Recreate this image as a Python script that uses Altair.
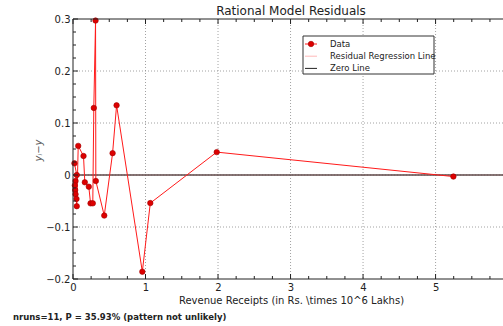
import altair as alt
import pandas as pd

# Residuals of the rational model against revenue receipts, in plotting order
receipts = [0.020, 0.052, 0.035, 0.025, 0.030, 0.035, 0.048, 0.052, 0.072,
            0.145, 0.163, 0.218, 0.242, 0.273, 0.287, 0.311, 0.315, 0.431,
            0.546, 0.601, 0.956, 1.066, 1.982, 5.246]
residuals = [0.0225, 0.000, -0.0115, -0.020, -0.029, -0.037, -0.046, -0.060, 0.056,
             0.0365, -0.014, -0.0225, -0.0545, -0.0545, 0.129, 0.297, -0.0115, -0.078,
             0.042, 0.134, -0.186, -0.054, 0.044, -0.003]

# Straight-line fit of the residuals (essentially flat along zero)
reg_x = [0.0, 6.0]
reg_y = [0.0, 0.0]

x_ticks = [0, 1, 2, 3, 4, 5]
y_ticks = [-0.2, -0.1, 0.0, 0.1, 0.2, 0.3]

legend_labels = ["Data", "Residual Regression Line", "Zero Line"]
legend_colors = ["#ff1a1a", "#ffb8b8", "#222222"]

chart_title = "Rational Model Residuals"
nruns = 11
p_value = 35.93
stats_text = f"nruns={nruns}, P = {p_value:.2f}% (pattern not unlikely)"

W, H = 430, 260
X_MAX = 5.93
FONT = "DejaVu Sans"
INK = "#222222"

xs = alt.Scale(domain=[0, X_MAX], nice=False, zero=False)
ys = alt.Scale(domain=[-0.2, 0.3], nice=False, zero=False)

x_axis = alt.Axis(
    values=x_ticks, format="d", grid=False, ticks=False, tickSize=0, domain=False,
    labelFlush=False, labelFont=FONT, labelFontSize=10, labelColor=INK, labelPadding=3,
    title="Revenue Receipts (in Rs. \\times 10^6 Lakhs)", titleFont=FONT,
    titleFontSize=10, titleFontWeight="normal", titleColor=INK,
    titleX=218, titleY=21, titleAlign="center", titleBaseline="middle",
)
y_axis = alt.Axis(
    values=y_ticks, format=".1~f", grid=False, ticks=False, tickSize=0, domain=False,
    labelFlush=False, labelFont=FONT, labelFontSize=10, labelColor=INK, labelPadding=3,
    title="yᵢ−y", titleFont=FONT, titleFontSize=10, titleFontWeight="normal",
    titleFontStyle="italic", titleColor="#555555", titleAngle=270,
    titleX=-35, titleY=131, titleAlign="center", titleBaseline="middle",
)


def X(field):
    return alt.X(field, scale=xs, axis=x_axis)


def Y(field):
    return alt.Y(field, scale=ys, axis=y_axis)


df = pd.DataFrame({"x": receipts, "r": residuals, "i": list(range(len(receipts)))})
one = pd.DataFrame({"k": [0]})

# dotted grid
grid_x = alt.Chart(pd.DataFrame({"v": x_ticks[1:]})).mark_rule(
    color="#8a8a8a", strokeWidth=0.8, strokeDash=[1, 2]
).encode(x=X("v:Q"))
grid_y = alt.Chart(pd.DataFrame({"v": y_ticks[1:-1]})).mark_rule(
    color="#8a8a8a", strokeWidth=0.8, strokeDash=[1, 2]
).encode(y=Y("v:Q"))

reg = alt.Chart(pd.DataFrame({"x": reg_x, "y": reg_y})).mark_line(
    color=legend_colors[1], strokeWidth=1
).encode(x=X("x:Q"), y=Y("y:Q"))

zero = alt.Chart(pd.DataFrame({"y": [0.0]})).mark_rule(color="#111111", strokeWidth=1).encode(
    y=Y("y:Q")
)

line = alt.Chart(df).mark_line(color=legend_colors[0], strokeWidth=1).encode(
    x=X("x:Q"), y=Y("r:Q"), order="i:Q",
)
points = alt.Chart(df).mark_circle(
    size=30, color="#dd0000", stroke="#a00000", strokeWidth=0.6, opacity=1
).encode(x=X("x:Q"), y=Y("r:Q"))


def x_ticks_layer(vals, length, top):
    y0 = 0 if top else H
    y1 = length if top else H - length
    return alt.Chart(pd.DataFrame({"v": vals})).mark_rule(color=INK, strokeWidth=1).encode(
        x=X("v:Q"), y=alt.value(y0), y2=alt.value(y1)
    )


def y_ticks_layer(vals, length):
    return alt.Chart(pd.DataFrame({"v": vals})).mark_rule(color=INK, strokeWidth=1).encode(
        y=Y("v:Q"), x=alt.value(0), x2=alt.value(length)
    )


x_minor = [q / 4 for q in range(1, 24) if q % 4]
y_minor = [round(-0.2 + q * 0.025, 3) for q in range(1, 20) if q % 4]

ticks = [
    x_ticks_layer(x_ticks, 5, False), x_ticks_layer(x_minor, 3, False),
    x_ticks_layer(x_ticks, 5, True), x_ticks_layer(x_minor, 3, True),
    y_ticks_layer(y_ticks, 5), y_ticks_layer(y_minor, 3),
]

frame = [
    alt.Chart(one).mark_rule(color=INK, strokeWidth=1).encode(
        x=alt.value(0), y=alt.value(0), y2=alt.value(H)),
    alt.Chart(one).mark_rule(color=INK, strokeWidth=1).encode(
        y=alt.value(0), x=alt.value(0), x2=alt.value(W)),
    alt.Chart(one).mark_rule(color=INK, strokeWidth=1).encode(
        y=alt.value(H), x=alt.value(0), x2=alt.value(W)),
]

# legend box
leg = pd.DataFrame({"label": legend_labels, "color": legend_colors})
leg["py"] = [25 + 12.2 * i for i in range(len(leg))]
leg_box = alt.Chart(one).mark_rect(fill="white", stroke="#333333", strokeWidth=1).encode(
    x=alt.value(230), x2=alt.value(361), y=alt.value(17), y2=alt.value(55)
)
leg_lines = alt.Chart(leg).mark_rule(strokeWidth=1).encode(
    x=alt.value(232), x2=alt.value(244),
    y=alt.Y("py:Q", scale=None, axis=None),
    color=alt.Color("color:N", scale=None, legend=None),
)
leg_dot = alt.Chart(leg.iloc[:1]).mark_circle(
    size=30, color="#dd0000", stroke="#a00000", strokeWidth=0.6, opacity=1
).encode(x=alt.value(238), y=alt.Y("py:Q", scale=None, axis=None))
leg_text = alt.Chart(leg).mark_text(
    align="left", baseline="middle", font=FONT, fontSize=8.5, color=INK
).encode(x=alt.value(257), y=alt.Y("py:Q", scale=None, axis=None), text="label:N")

title = alt.Chart(pd.DataFrame({"t": [chart_title]})).mark_text(
    align="center", baseline="alphabetic", font=FONT, fontSize=12, color=INK
).encode(x=alt.value(218), y=alt.value(-4), text="t:N")

stats = alt.Chart(pd.DataFrame({"t": [stats_text]})).mark_text(
    align="left", baseline="middle", font=FONT, fontSize=8.5, fontWeight="bold", color=INK
).encode(x=alt.value(-60), y=alt.value(298), text="t:N")

chart = alt.layer(
    grid_x, grid_y, reg, zero, line, points, *ticks, *frame,
    leg_box, leg_lines, leg_dot, leg_text, title, stats,
).properties(
    width=W, height=H,
    padding={"left": 73, "top": 19, "right": 0, "bottom": 47},
    autosize=alt.AutoSizeParams(type="none"),
    background="white",
).configure_view(stroke=None)

chart.save("out.html", embed_options={"renderer": "svg", "actions": False})
